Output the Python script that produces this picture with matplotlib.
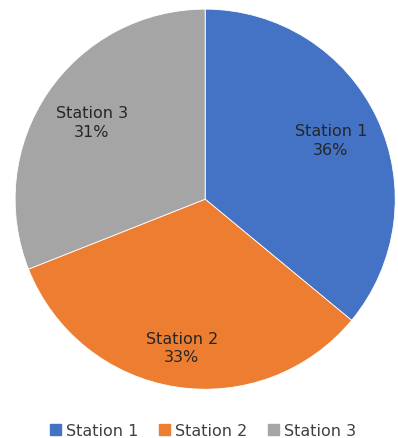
import matplotlib.pyplot as plt
import numpy as np

stations = ["Station 1", "Station 2", "Station 3"]
shares = [36, 33, 31]
colors = ["#4472C4", "#ED7D31", "#A5A5A5"]

fig = plt.figure(figsize=(3.98, 4.39), dpi=100)
ax = fig.add_axes([0.038, 0.111, 0.955, 0.866])

wedges, _ = ax.pie(shares, colors=colors, startangle=90, counterclock=False,
                   wedgeprops=dict(edgecolor="white", linewidth=0.6))
ax.set_xlim(-1, 1)
ax.set_ylim(-1, 1)
ax.set_aspect("equal")

# label distance per wedge (Excel best-fit placement)
dist = [0.73, 0.79, 0.72]
for w, name, val, d in zip(wedges, stations, shares, dist):
    ang = np.deg2rad((w.theta1 + w.theta2) / 2)
    ax.text(d * np.cos(ang), d * np.sin(ang), f"{name}\n{val}%",
            ha="center", va="center", fontsize=11.5, color="#262626",
            linespacing=1.3)

handles = [plt.Rectangle((0, 0), 1, 1, color=c) for c in colors]
fig.legend(handles, stations, loc="center", bbox_to_anchor=(0.51, 0.017),
           ncol=3, frameon=False, fontsize=11.5, handlelength=0.7, handleheight=0.7,
           handletextpad=0.3, columnspacing=1.3, labelcolor="#404040")

fig.savefig("out.png", dpi=100)
